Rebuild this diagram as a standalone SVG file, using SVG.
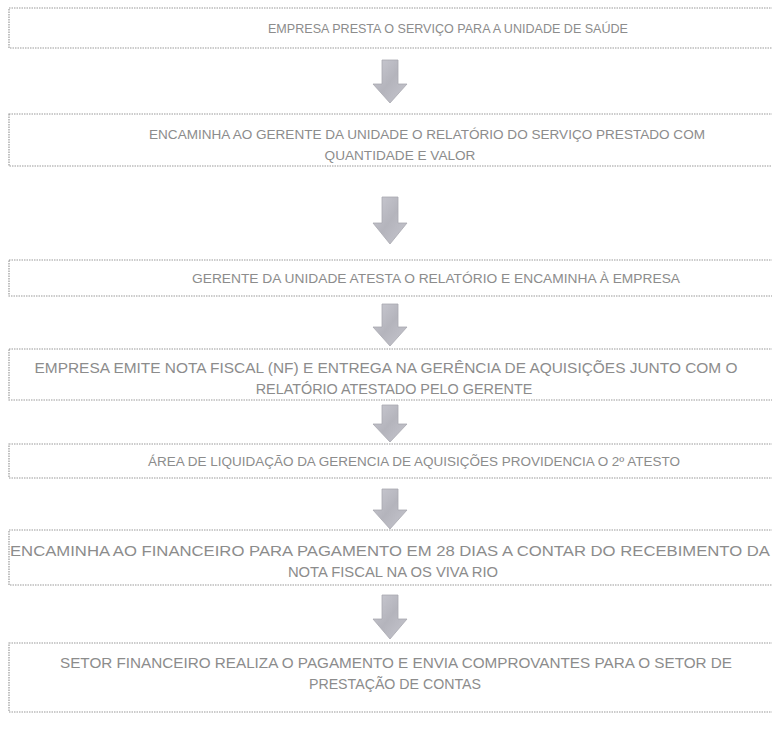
<svg xmlns="http://www.w3.org/2000/svg" width="772" height="736" viewBox="0 0 772 736">
<style>
.box{fill:#ffffff;stroke:#9a9a9a;stroke-width:1.2;stroke-dasharray:1.5 1}
.t{font-family:"Liberation Sans",Arial,sans-serif;fill:#8c8c8c;text-anchor:middle}
.arr{fill:url(#ag);stroke:#a8a8b0;stroke-width:0.8}
</style>
<defs>
<linearGradient id="ag" x1="0" y1="0" x2="1" y2="1">
<stop offset="0" stop-color="#cacad2"/>
<stop offset="0.5" stop-color="#b4b4bc"/>
<stop offset="1" stop-color="#c6c6ce"/>
</linearGradient>
</defs>
<rect width="772" height="736" fill="#ffffff"/>
<g id="connectors">
<polygon class="arr" points="382,60 398,60 398,84 407,84 390,103 373,84 382,84"/>
<polygon class="arr" points="382,197 398,197 398,223 407,223 390,244 373,223 382,223"/>
<polygon class="arr" points="382,304 398,304 398,327 407,327 390,346 373,327 382,327"/>
<polygon class="arr" points="382,405 398,405 398,424 407,424 390,442 373,424 382,424"/>
<polygon class="arr" points="382,489 398,489 398,510 407,510 390,529 373,510 382,510"/>
<polygon class="arr" points="382,595 398,595 398,619 407,619 390,639 373,619 382,619"/>
</g>
<g id="n1">
<rect class="box" x="9" y="8" width="790" height="40"/>
<text class="t" x="448" y="32.5" font-size="13" textLength="360" lengthAdjust="spacingAndGlyphs">EMPRESA PRESTA O SERVIÇO PARA A UNIDADE DE SAÚDE</text>
</g>
<g id="n2">
<rect class="box" x="9" y="114" width="790" height="52"/>
<text class="t" x="427" y="139" font-size="13.6" textLength="556" lengthAdjust="spacingAndGlyphs">ENCAMINHA AO GERENTE DA UNIDADE O RELATÓRIO DO SERVIÇO PRESTADO COM</text>
<text class="t" x="400" y="160" font-size="13.6">QUANTIDADE E VALOR</text>
</g>
<g id="n3">
<rect class="box" x="9" y="260" width="790" height="36"/>
<text class="t" x="436" y="283" font-size="13.6" textLength="488" lengthAdjust="spacingAndGlyphs">GERENTE DA UNIDADE ATESTA O RELATÓRIO E ENCAMINHA À EMPRESA</text>
</g>
<g id="n4">
<rect class="box" x="9" y="349" width="790" height="51"/>
<text class="t" x="386" y="373" font-size="14.4" textLength="703" lengthAdjust="spacingAndGlyphs">EMPRESA EMITE NOTA FISCAL (NF) E ENTREGA NA GERÊNCIA DE AQUISIÇÕES JUNTO COM O</text>
<text class="t" x="394" y="394" font-size="14.4">RELATÓRIO ATESTADO PELO GERENTE</text>
</g>
<g id="n5">
<rect class="box" x="9" y="444" width="790" height="34"/>
<text class="t" x="414" y="466" font-size="13.4" textLength="532" lengthAdjust="spacingAndGlyphs">ÁREA DE LIQUIDAÇÃO DA GERENCIA DE AQUISIÇÕES PROVIDENCIA O 2º ATESTO</text>
</g>
<g id="n6">
<rect class="box" x="9" y="530" width="790" height="55"/>
<text class="t" x="390" y="556" font-size="14.8" textLength="760" lengthAdjust="spacingAndGlyphs">ENCAMINHA AO FINANCEIRO PARA PAGAMENTO EM 28 DIAS A CONTAR DO RECEBIMENTO DA</text>
<text class="t" x="393" y="577" font-size="14.8">NOTA FISCAL NA OS VIVA RIO</text>
</g>
<g id="n7">
<rect class="box" x="9" y="643" width="790" height="69"/>
<text class="t" x="396" y="668" font-size="14.2" textLength="672" lengthAdjust="spacingAndGlyphs">SETOR FINANCEIRO REALIZA O PAGAMENTO E ENVIA COMPROVANTES PARA O SETOR DE</text>
<text class="t" x="395" y="689" font-size="14.2">PRESTAÇÃO DE CONTAS</text>
</g>
</svg>
